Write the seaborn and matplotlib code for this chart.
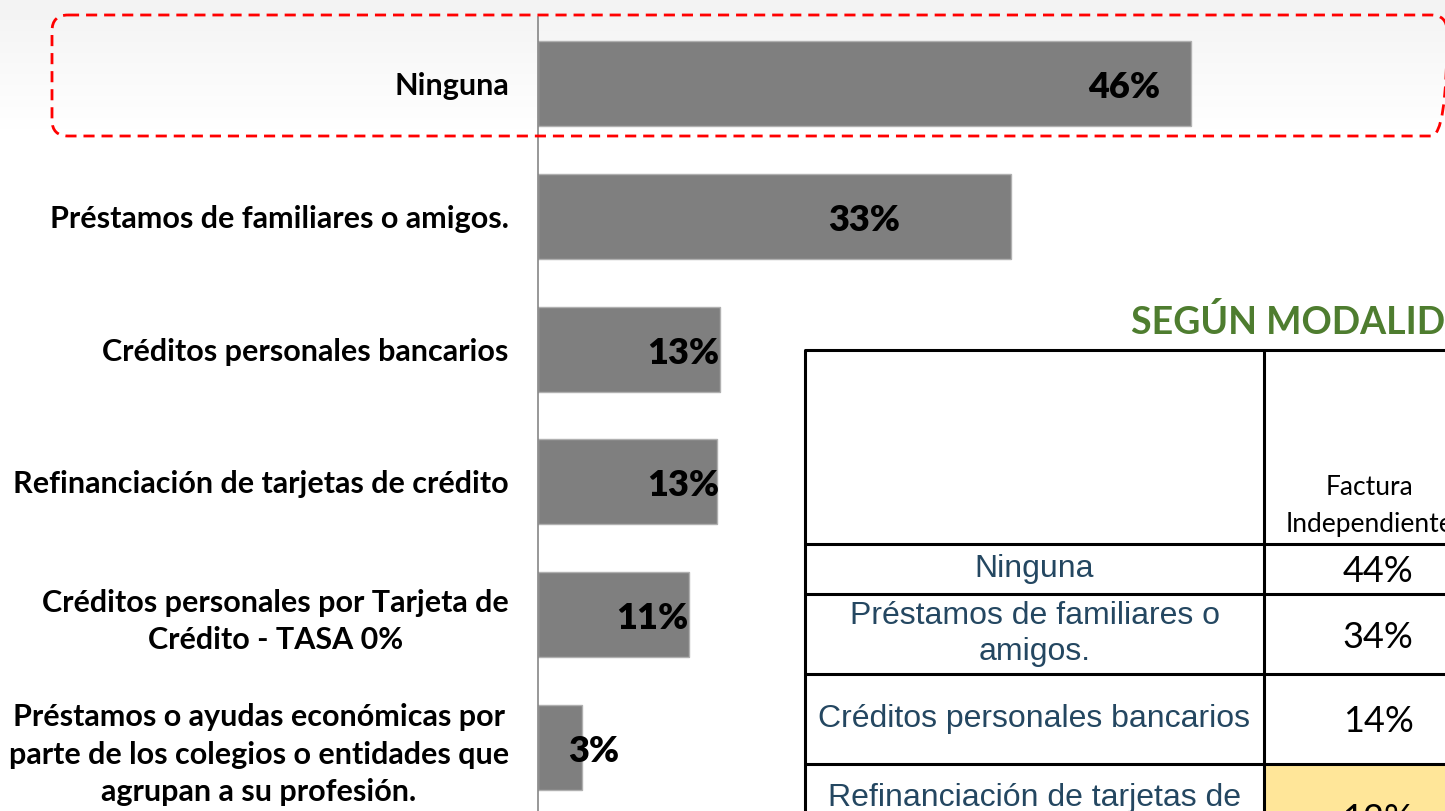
import numpy as np
import pandas as pd
import matplotlib
matplotlib.use("Agg")
import matplotlib.pyplot as plt
from matplotlib.patches import FancyBboxPatch, Rectangle
import seaborn as sns

# --- data ---
categorias = [
    "Ninguna",
    "Préstamos de familiares o amigos.",
    "Créditos personales bancarios",
    "Refinanciación de tarjetas de crédito",
    "Créditos personales por Tarjeta de\nCrédito - TASA 0%",
    "Préstamos o ayudas económicas por\nparte de los colegios o entidades que\nagrupan a su profesión.",
]
porcentajes = [46.0, 33.3, 12.8, 12.6, 10.6, 3.1]
# manual nudges of the value labels (in % units), as on the slide
label_shift = [-2.2, -7.8, 0.0, 0.2, 0.0, 2.6]

tabla_titulo = "SEGÚN MODALIDAD"
tabla_columna = "Factura\nIndependiente"
tabla_filas = [
    "Ninguna",
    "Préstamos de familiares o\namigos.",
    "Créditos personales bancarios",
    "Refinanciación de tarjetas de\ncrédito",
]
tabla_valores = [44, 34, 14, 12]

W, H = 1445, 811
sns.set_style("white")
plt.rcParams["font.family"] = ["Lato", "DejaVu Sans"]

fig = plt.figure(figsize=(W / 100, H / 100), dpi=100)

# soft grey gradient at the top of the slide
bg = fig.add_axes([0, 0, 1, 1], zorder=0)
grad = np.ones((H, 2))
top = np.linspace(0.95, 1.0, 140)
grad[:140, :] = top[:, None]
bg.imshow(grad, cmap="gray", vmin=0, vmax=1, aspect="auto", extent=[0, W, H, 0])
bg.axis("off")

# --- bar chart ---
px_per_pct = 14.2
ax = fig.add_axes([538 / W, 1 - 814 / H, (W - 538) / W, 797 / H], zorder=2)
ax.patch.set_alpha(0)
df = pd.DataFrame({"categoria": categorias, "pct": porcentajes})
sns.barplot(data=df, x="pct", y="categoria", color="#7f7f7f", saturation=1,
            width=0.64, edgecolor="#b0b0b0", linewidth=1, ax=ax)
ax.set_xlim(0, (W - 538) / px_per_pct)
ax.set_ylim(len(categorias) - 0.5, -0.5)
ax.set_xlabel("")
ax.set_ylabel("")
ax.set_xticks([])

for s in ["top", "right", "bottom"]:
    ax.spines[s].set_visible(False)
ax.spines["left"].set_color("#868686")
ax.spines["left"].set_linewidth(1.2)

ax.set_yticks(range(len(categorias)))
ax.set_yticks(np.arange(-0.5, len(categorias), 1), minor=True)
ax.tick_params(axis="y", which="major", length=0, pad=21)
ax.tick_params(axis="y", which="minor", length=10, width=1.2, color="#868686",
               direction="out")
ax.set_yticklabels(categorias, fontsize=22, fontweight="bold", color="black",
                   linespacing=1.4)
for t in ax.get_yticklabels():
    t.set_multialignment("center")

for i, (v, sh) in enumerate(zip(porcentajes, label_shift)):
    ax.text(v + sh, i + 0.03, f"{v:.0f}%", ha="right", va="center",
            fontsize=26, fontweight="heavy", color="black")

# --- overlay in pixel coordinates: highlight box and table ---
ov = fig.add_axes([0, 0, 1, 1], zorder=3)
ov.set_xlim(0, W)
ov.set_ylim(H, 0)
ov.axis("off")
ov.patch.set_alpha(0)

ov.add_patch(FancyBboxPatch((52, 15), 1395, 121,
                            boxstyle="round,pad=0,rounding_size=16",
                            fill=False, edgecolor="#ff0000", linewidth=2,
                            linestyle=(0, (4, 2.5)), clip_on=False))

ov.text(1131, 322, tabla_titulo, ha="left", va="center", fontsize=27,
        fontweight="bold", color="#4e7d2f")

x0, x1, x2 = 805, 1264, 1480
rows_y = [350, 544, 594, 674, 764, 850]
ov.add_patch(Rectangle((x1, rows_y[4]), x2 - x1, rows_y[5] - rows_y[4],
                       facecolor="#ffe699", edgecolor="none"))
for y in rows_y[:-1]:
    ov.plot([x0, x2], [y, y], color="black", lw=2.2, solid_capstyle="butt")
for x in [x0, x1]:
    ov.plot([x, x], [rows_y[0], rows_y[-1]], color="black", lw=2.2)

ov.text(1370, 506, tabla_columna, ha="center", va="center",
        fontsize=19, color="black", linespacing=1.6)

row_font = ["Liberation Sans", "DejaVu Sans"]
for k, (nombre, val) in enumerate(zip(tabla_filas, tabla_valores)):
    yc = (rows_y[k + 1] + rows_y[k + 2]) / 2
    if k == 3:
        yc = 816
    ov.text((x0 + x1) / 2, yc, nombre, ha="center", va="center", fontsize=23,
            family=row_font, color="#244761", linespacing=1.22)
    ov.text(1378, yc + 3, f"{val}%", ha="center", va="center", fontsize=26,
            color="black")

fig.savefig("out.png", dpi=100)
